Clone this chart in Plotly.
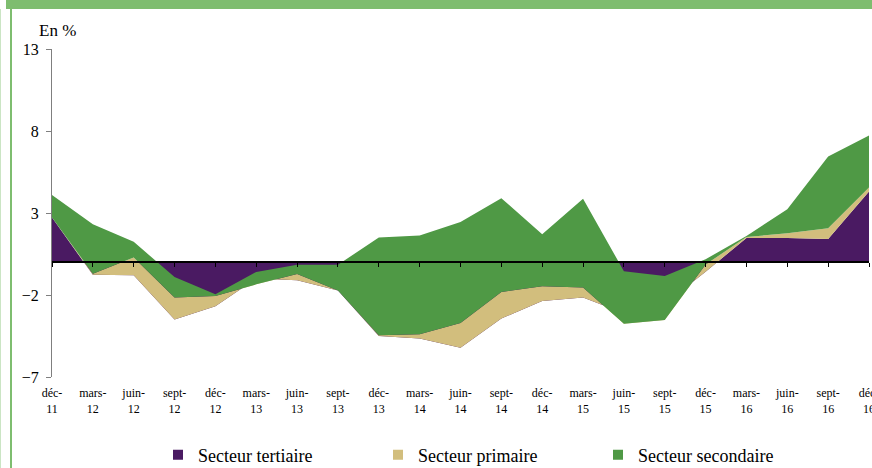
import plotly.graph_objects as go

# Data, en %
quarters = ["déc-11", "mars-12", "juin-12", "sept-12", "déc-12", "mars-13", "juin-13",
            "sept-13", "déc-13", "mars-14", "juin-14", "sept-14", "déc-14", "mars-15",
            "juin-15", "sept-15", "déc-15", "mars-16", "juin-16", "sept-16", "déc-16"]
tertiaire = [2.73, -0.77, -0.80, -3.50, -2.69, -1.00, -1.10, -1.72, -4.50, -4.65, -5.22,
             -3.44, -2.36, -2.16, -3.12, -2.55, -0.58, 1.48, 1.47, 1.42, 4.31]
primaire = [0.00, 0.07, 1.09, 1.34, 0.63, -0.35, 0.38, 0.00, 0.04, 0.25, 1.52,
            1.63, 0.89, 0.61, -0.63, -0.98, 0.44, 0.05, 0.30, 0.65, 0.25]
secondaire = [1.37, 3.01, 0.95, 1.26, 0.10, 0.76, 0.57, 1.56, 5.97, 6.03, 6.15,
              5.71, 3.18, 5.42, 3.20, 2.69, 0.32, 0.07, 1.46, 4.38, 3.16]
y_ticks = [-7, -2, 3, 8, 13]

# Colors
COLOR_TERT = '#4A1A62'
COLOR_PRIM = '#D2BE7D'
COLOR_SEC = '#4F9945'
FRAME_GREEN = '#7EBD6F'
FONT = "Liberation Serif"

idx = list(range(len(quarters)))
tick_text = [q.replace("-", "-<br>") for q in quarters]

series = [
    ("Secteur tertiaire", tertiaire, COLOR_TERT),
    ("Secteur primaire", primaire, COLOR_PRIM),
    ("Secteur secondaire", secondaire, COLOR_SEC),
]

fig = go.Figure()

# Stacked areas (Excel-like cumulative stacking)
for name, vals, color in series:
    fig.add_trace(go.Scatter(
        x=idx, y=vals, name=name, stackgroup='one', mode='lines',
        line=dict(width=0, color=color), fillcolor=color, showlegend=False
    ))

# Legend entries (square markers)
for name, vals, color in series:
    fig.add_trace(go.Scatter(
        x=[None], y=[None], name=name, mode='markers', xaxis='x2',
        marker=dict(symbol='square', size=10, color=color), showlegend=True
    ))

# Frame decoration (green border of the original document)
fig.add_shape(type='rect', xref='paper', yref='paper',
              x0=(6 - 52) / 817, x1=(880 - 52) / 817,
              y0=(377 - 9) / 328, y1=(377 + 2) / 328,
              fillcolor=FRAME_GREEN, line_width=0, layer='above')
fig.add_shape(type='line', xref='paper', yref='paper',
              x0=(11 - 52) / 817, x1=(11 - 52) / 817,
              y0=(377 - 470) / 328, y1=(377 - 9) / 328,
              line=dict(color=FRAME_GREEN, width=2))
fig.add_shape(type='line', xref='paper', yref='paper',
              x0=(0.5 - 52) / 817, x1=(0.5 - 52) / 817,
              y0=(377 - 470) / 328, y1=(377 - 9) / 328,
              line=dict(color='#CBE5C4', width=1))

fig.add_annotation(text="En %", xref='paper', yref='paper',
                   x=(37 - 52) / 817, y=(377 - 31) / 328,
                   xanchor='left', yanchor='middle', showarrow=False,
                   font=dict(family=FONT, size=17, color='black'))

fig.update_layout(
    width=872, height=468,
    margin=dict(l=52, r=3, t=49, b=91, autoexpand=False),
    paper_bgcolor='white', plot_bgcolor='white',
    font=dict(family=FONT, size=16, color='black'),
    showlegend=True,
    legend=dict(orientation='h', x=(158 - 52) / 817, xanchor='left',
                y=(377 - 455) / 328, yanchor='middle',
                entrywidth=175, entrywidthmode='pixels',
                font=dict(family=FONT, size=18, color='black'),
                bgcolor='rgba(0,0,0,0)', traceorder='normal'),
    hovermode=False,
    xaxis=dict(range=[0, 20], tickvals=idx, ticktext=tick_text, showgrid=False,
               zeroline=False, showline=False, ticks='', automargin=False,
               tickfont=dict(family=FONT, size=12), ticklabelstandoff=7,
               ticklabeloverflow='allow'),
    xaxis2=dict(range=[0, 20], overlaying='x', anchor='free', position=7 / 20,
                tickvals=idx, showticklabels=False, showgrid=False, zeroline=False,
                showline=True, linecolor='black', linewidth=1.5,
                ticks='outside', ticklen=4, tickcolor='black', tickwidth=1),
    yaxis=dict(range=[-7, 13], tickvals=y_ticks, showgrid=False, zeroline=False,
               showline=True, linecolor='#7F7F7F', linewidth=1,
               ticks='outside', ticklen=5, tickcolor='#7F7F7F',
               tickfont=dict(family=FONT, size=16), ticklabelstandoff=4,
               automargin=False),
)

# page without body margin so the figure sits at the window origin
fig.write_html("out.html", config={'displayModeBar': False},
               post_script="document.body.style.margin='0';document.body.style.overflow='hidden';")
